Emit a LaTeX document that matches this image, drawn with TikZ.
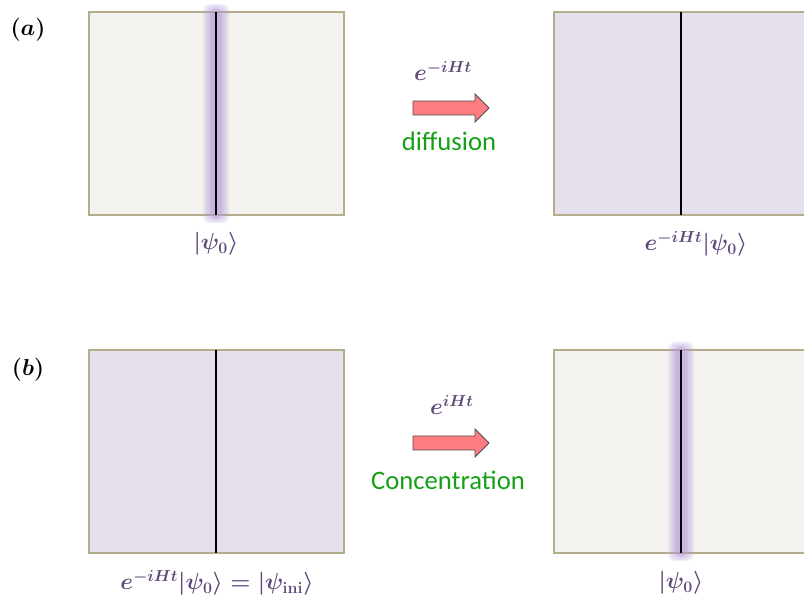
\documentclass[tikz,border=0pt]{standalone}
\usepackage{amsmath,bm}
\usepackage{fontspec}
\newfontfamily\calibri{Carlito}

\definecolor{sand}{HTML}{F3F2EE}
\definecolor{lavender}{HTML}{E5E0EC}
\definecolor{panelEdge}{HTML}{B3AD8B}
\definecolor{glowPurple}{HTML}{B49AD8}
\definecolor{ketPurple}{HTML}{604A7B}
\definecolor{wordGreen}{HTML}{16A016}
\definecolor{arrowPink}{HTML}{FF7C80}

\begin{document}
\begin{tikzpicture}[
        x=0.75pt, y=-0.75pt,
        panel/.style={draw=panelEdge, line width=0.9pt},
        wall/.style={draw=black, line width=1.1pt},
        glow/.style={fill=glowPurple, opacity=0.17, rounded corners=5pt},
        ket/.style={text=ketPurple, font=\fontsize{18.5}{21}\selectfont\boldmath},
        tag/.style={text=black, font=\fontsize{18.5}{21}\selectfont\boldmath},
        word/.style={text=wordGreen, font=\calibri\fontsize{20}{24}\selectfont},
        pics/fatarrow/.style={code={
            \filldraw[fill=arrowPink, draw=black!70, line width=0.7pt]
                (-38,-7) -- (24,-7) -- (24,-14) -- (38,0) -- (24,14) -- (24,7) -- (-38,7) -- cycle;
        }}
    ]
    \useasboundingbox (0,0) rectangle (804,602);

    % (a) spreading out
    \node[tag] (tagA) at (28,30) {$(\bm{a})$};

    \fill[sand] (89,12) rectangle (344,215);
    \draw[panel] (89,12) rectangle (344,215);
    \foreach \w in {13,11,9,7,6,5}
        \fill[glow] (216-\w,12-\w/1.6) rectangle (216+\w,215+\w/1.6);
    \coordinate (wallAtopL) at (216,12);
    \coordinate (wallAbotL) at (216,215);
    \draw[wall] (wallAtopL) -- (wallAbotL);
    \node[ket] (ketA) at (216,244) {$|\bm{\psi}_{\bm{0}}\rangle$};

    \pic (arrA) at (451,108) {fatarrow};
    \node[ket] (opA) at (443,71) {$\bm{e}^{-\bm{iHt}}$};
    \node[word] (diff) at (449,141) {diffusion};

    \fill[lavender] (554,12) rectangle (804,215);
    \draw[panel] (804,12) -- (554,12) -- (554,215) -- (804,215);
    \coordinate (wallAtopR) at (681,12);
    \coordinate (wallAbotR) at (681,215);
    \draw[wall] (wallAtopR) -- (wallAbotR);
    \node[ket] (ketAR) at (696,244) {$\bm{e}^{-\bm{iHt}}|\bm{\psi}_{\bm{0}}\rangle$};

    % (b) gathering back
    \node[tag] (tagB) at (28,370) {$(\bm{b})$};

    \fill[lavender] (89,350) rectangle (344,553);
    \draw[panel] (89,350) rectangle (344,553);
    \coordinate (wallBtopL) at (216,350);
    \coordinate (wallBbotL) at (216,553);
    \draw[wall] (wallBtopL) -- (wallBbotL);
    \node[ket] (ketB) at (217,583) {$\bm{e}^{-\bm{iHt}}|\bm{\psi}_{\bm{0}}\rangle=|\bm{\psi}_{\mathbf{ini}}\rangle$};

    \pic (arrB) at (451,443) {fatarrow};
    \node[ket] (opB) at (452,405) {$\bm{e}^{\bm{iHt}}$};
    \node[word] (conc) at (448,480) {Concentration};

    \fill[sand] (554,350) rectangle (804,553);
    \draw[panel] (804,350) -- (554,350) -- (554,553) -- (804,553);
    \foreach \w in {13,11,9,7,6,5}
        \fill[glow] (681-\w,350-\w/1.6) rectangle (681+\w,553+\w/1.6);
    \coordinate (wallBtopR) at (681,350);
    \coordinate (wallBbotR) at (681,553);
    \draw[wall] (wallBtopR) -- (wallBbotR);
    \node[ket] (ketBR) at (681,583) {$|\bm{\psi}_{\bm{0}}\rangle$};
\end{tikzpicture}
\end{document}
